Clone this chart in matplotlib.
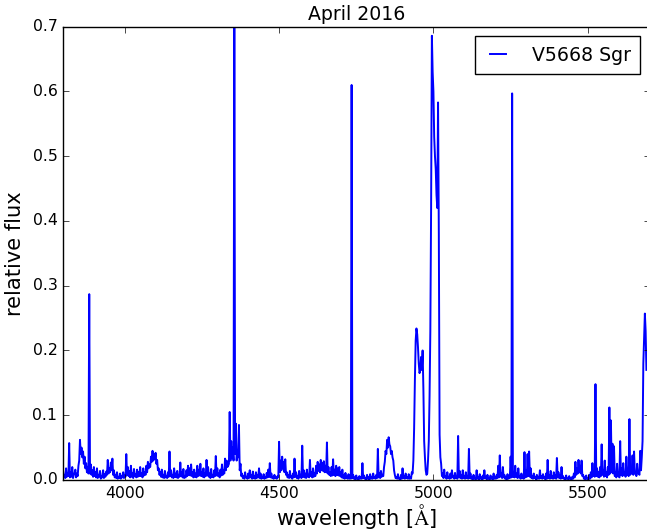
import numpy as np
import matplotlib
matplotlib.use("Agg")
import matplotlib.pyplot as plt

plt.style.use("classic")
plt.rcParams["font.family"] = ["DejaVu Sans"]
plt.rcParams["font.size"] = 11.3
plt.rcParams["mathtext.fontset"] = "cm"

# Spectrum sampled on a regular 2.5 Å grid starting at 3800 Å (one row = 50 Å)
wave_start = 3800.0
wave_step = 2.5
flux = [
    # 3800
    0.015, 0.004, 0.008, 0.003, 0.018, 0.005, 0.010, 0.006, 0.057, 0.004,
    0.012, 0.005, 0.020, 0.003, 0.008, 0.010, 0.016, 0.004, 0.010, 0.006,
    # 3850
    0.022, 0.030, 0.062, 0.040, 0.050, 0.035, 0.044, 0.025, 0.036, 0.018,
    0.026, 0.012, 0.020, 0.010, 0.287, 0.010, 0.024, 0.008, 0.015, 0.005,
    # 3900
    0.020, 0.006, 0.012, 0.004, 0.018, 0.003, 0.008, 0.005, 0.014, 0.002,
    0.006, 0.004, 0.015, 0.003, 0.009, 0.005, 0.013, 0.008, 0.031, 0.010,
    # 3950
    0.018, 0.012, 0.027, 0.015, 0.033, 0.008, 0.015, 0.004, 0.008, 0.003,
    0.012, 0.002, 0.004, 0.003, 0.010, 0.002, 0.006, 0.004, 0.012, 0.003,
    # 4000
    0.008, 0.005, 0.040, 0.008, 0.020, 0.006, 0.014, 0.004, 0.022, 0.005,
    0.010, 0.003, 0.017, 0.006, 0.009, 0.004, 0.016, 0.005, 0.012, 0.006,
    # 4050
    0.020, 0.006, 0.010, 0.004, 0.018, 0.007, 0.012, 0.008, 0.022, 0.012,
    0.028, 0.018, 0.024, 0.020, 0.036, 0.028, 0.045, 0.030, 0.040, 0.032,
    # 4100
    0.042, 0.025, 0.031, 0.015, 0.018, 0.008, 0.012, 0.005, 0.016, 0.004,
    0.008, 0.003, 0.014, 0.004, 0.006, 0.003, 0.012, 0.005, 0.044, 0.006,
    # 4150
    0.015, 0.004, 0.008, 0.003, 0.018, 0.005, 0.010, 0.004, 0.014, 0.003,
    0.008, 0.005, 0.027, 0.006, 0.012, 0.004, 0.017, 0.003, 0.006, 0.004,
    # 4200
    0.015, 0.006, 0.022, 0.008, 0.018, 0.007, 0.024, 0.006, 0.012, 0.004,
    0.016, 0.005, 0.010, 0.004, 0.022, 0.006, 0.016, 0.007, 0.025, 0.006,
    # 4250
    0.012, 0.005, 0.018, 0.004, 0.010, 0.006, 0.031, 0.007, 0.020, 0.005,
    0.010, 0.003, 0.017, 0.005, 0.008, 0.004, 0.015, 0.006, 0.037, 0.007,
    # 4300
    0.018, 0.006, 0.010, 0.004, 0.016, 0.007, 0.024, 0.008, 0.015, 0.010,
    0.033, 0.015, 0.030, 0.020, 0.022, 0.025, 0.105, 0.030, 0.060, 0.035,
    # 4350
    0.050, 0.030, 0.750, 0.040, 0.087, 0.030, 0.046, 0.035, 0.085, 0.015,
    0.025, 0.006, 0.010, 0.003, 0.006, 0.002, 0.012, 0.004, 0.005, 0.002,
    # 4400
    0.010, 0.003, 0.015, 0.004, 0.008, 0.002, 0.013, 0.003, 0.006, 0.002,
    0.012, 0.003, 0.008, 0.004, 0.018, 0.003, 0.010, 0.002, 0.005, 0.003,
    # 4450
    0.009, 0.002, 0.004, 0.003, 0.011, 0.004, 0.016, 0.005, 0.026, 0.004,
    0.010, 0.003, 0.005, 0.002, 0.008, 0.003, 0.004, 0.002, 0.006, 0.004,
    # 4500
    0.059, 0.012, 0.030, 0.015, 0.036, 0.018, 0.028, 0.012, 0.032, 0.008,
    0.012, 0.004, 0.008, 0.003, 0.014, 0.004, 0.006, 0.002, 0.010, 0.004,
    # 4550
    0.033, 0.005, 0.012, 0.003, 0.006, 0.002, 0.014, 0.004, 0.008, 0.003,
    0.053, 0.005, 0.015, 0.004, 0.010, 0.003, 0.016, 0.005, 0.008, 0.004,
    # 4600
    0.031, 0.006, 0.012, 0.004, 0.018, 0.005, 0.010, 0.006, 0.022, 0.010,
    0.028, 0.014, 0.024, 0.012, 0.031, 0.015, 0.026, 0.014, 0.029, 0.012,
    # 4650
    0.022, 0.012, 0.058, 0.010, 0.020, 0.008, 0.012, 0.006, 0.020, 0.007,
    0.032, 0.008, 0.016, 0.006, 0.022, 0.008, 0.018, 0.007, 0.020, 0.006,
    # 4700
    0.012, 0.004, 0.016, 0.003, 0.007, 0.002, 0.011, 0.003, 0.005, 0.002,
    0.009, 0.002, 0.006, 0.002, 0.610, 0.003, 0.008, 0.002, 0.004, 0.001,
    # 4750
    0.007, 0.002, 0.003, 0.001, 0.006, 0.002, 0.004, 0.002, 0.026, 0.003,
    0.007, 0.002, 0.003, 0.001, 0.008, 0.002, 0.004, 0.001, 0.009, 0.002,
    # 4800
    0.005, 0.002, 0.010, 0.003, 0.004, 0.002, 0.008, 0.003, 0.048, 0.004,
    0.010, 0.003, 0.014, 0.005, 0.008, 0.006, 0.020, 0.028, 0.045, 0.040,
    # 4850
    0.062, 0.050, 0.066, 0.055, 0.052, 0.040, 0.045, 0.035, 0.030, 0.015,
    0.008, 0.003, 0.004, 0.002, 0.009, 0.002, 0.003, 0.001, 0.008, 0.002,
    # 4900
    0.018, 0.003, 0.006, 0.002, 0.010, 0.003, 0.004, 0.002, 0.009, 0.002,
    0.005, 0.002, 0.012, 0.010, 0.030, 0.080, 0.155, 0.215, 0.234, 0.225,
    # 4950
    0.205, 0.180, 0.165, 0.170, 0.190, 0.170, 0.200, 0.140, 0.060, 0.035,
    0.015, 0.008, 0.010, 0.030, 0.060, 0.130, 0.230, 0.420, 0.686, 0.630,
    # 5000
    0.600, 0.530, 0.500, 0.480, 0.440, 0.420, 0.583, 0.380, 0.070, 0.035,
    0.025, 0.006, 0.010, 0.003, 0.016, 0.004, 0.006, 0.002, 0.012, 0.003,
    # 5050
    0.005, 0.002, 0.010, 0.003, 0.015, 0.004, 0.006, 0.002, 0.011, 0.003,
    0.004, 0.002, 0.068, 0.004, 0.014, 0.003, 0.008, 0.002, 0.015, 0.003,
    # 5100
    0.006, 0.002, 0.012, 0.003, 0.005, 0.002, 0.048, 0.003, 0.010, 0.002,
    0.004, 0.001, 0.008, 0.002, 0.003, 0.001, 0.015, 0.002, 0.005, 0.001,
    # 5150
    0.009, 0.002, 0.004, 0.001, 0.007, 0.002, 0.015, 0.003, 0.005, 0.001,
    0.008, 0.002, 0.003, 0.001, 0.007, 0.002, 0.004, 0.001, 0.010, 0.002,
    # 5200
    0.005, 0.002, 0.008, 0.003, 0.022, 0.004, 0.038, 0.005, 0.010, 0.003,
    0.020, 0.004, 0.008, 0.002, 0.004, 0.001, 0.009, 0.002, 0.005, 0.003,
    # 5250
    0.036, 0.004, 0.597, 0.005, 0.012, 0.004, 0.022, 0.005, 0.010, 0.003,
    0.018, 0.004, 0.006, 0.002, 0.010, 0.003, 0.005, 0.002, 0.043, 0.004,
    # 5300
    0.015, 0.005, 0.040, 0.006, 0.044, 0.005, 0.018, 0.003, 0.006, 0.002,
    0.010, 0.003, 0.004, 0.001, 0.008, 0.002, 0.005, 0.002, 0.015, 0.003,
    # 5350
    0.006, 0.002, 0.009, 0.003, 0.004, 0.001, 0.010, 0.002, 0.031, 0.003,
    0.008, 0.002, 0.014, 0.003, 0.006, 0.002, 0.012, 0.003, 0.008, 0.002,
    # 5400
    0.034, 0.004, 0.012, 0.003, 0.008, 0.002, 0.020, 0.003, 0.006, 0.002,
    0.003, 0.001, 0.007, 0.002, 0.002, 0.001, 0.006, 0.002, 0.003, 0.001,
    # 5450
    0.005, 0.002, 0.010, 0.004, 0.028, 0.008, 0.018, 0.010, 0.031, 0.012,
    0.022, 0.010, 0.030, 0.006, 0.008, 0.002, 0.004, 0.001, 0.007, 0.002,
    # 5500
    0.003, 0.001, 0.008, 0.002, 0.012, 0.004, 0.026, 0.006, 0.010, 0.005,
    0.148, 0.006, 0.018, 0.005, 0.012, 0.004, 0.020, 0.006, 0.055, 0.008,
    # 5550
    0.015, 0.005, 0.030, 0.006, 0.012, 0.004, 0.020, 0.008, 0.112, 0.010,
    0.092, 0.012, 0.056, 0.010, 0.052, 0.006, 0.012, 0.004, 0.025, 0.006,
    # 5600
    0.010, 0.004, 0.060, 0.008, 0.018, 0.006, 0.026, 0.008, 0.012, 0.005,
    0.036, 0.008, 0.015, 0.006, 0.094, 0.008, 0.020, 0.010, 0.038, 0.008,
    # 5650
    0.044, 0.010, 0.012, 0.006, 0.025, 0.010, 0.010, 0.008, 0.045, 0.015,
    0.035, 0.060, 0.180, 0.220, 0.257, 0.230, 0.170,
]
wavelength = wave_start + wave_step * np.arange(len(flux))

W, H = 647, 530
fig = plt.figure(figsize=(W / 100, H / 100), dpi=100, facecolor="white")
ax = fig.add_axes([63 / W, 50 / H, (649.5 - 63) / W, (480 - 26.7) / H])

ax.plot(wavelength, flux, color="blue", linewidth=1.4, label="V5668 Sgr")

ax.set_xlim(3800, 5700)
ax.set_ylim(0.0, 0.7)
ax.set_xticks([4000, 4500, 5000, 5500])
ax.set_yticks(np.arange(0, 0.71, 0.1))
ax.tick_params(labelsize=11.3)

ax.set_title("April 2016", fontsize=13.6)
ax.set_xlabel(r"wavelength [$\mathrm{\AA}$]", fontsize=15.1, labelpad=1)
ax.set_ylabel("relative flux", fontsize=15.1)

ax.legend(loc="upper right", fontsize=13.6, handlelength=1.45,
          handletextpad=1.05, borderpad=0.5, borderaxespad=0.5,
          fancybox=False)

fig.savefig("out.png", dpi=100, facecolor="white")
